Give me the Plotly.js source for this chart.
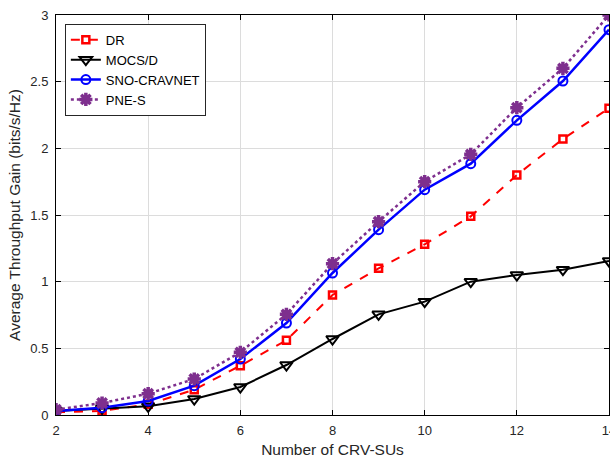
<!DOCTYPE html>
<html><head><meta charset="utf-8">
<script src="https://cdn.plot.ly/plotly-3.0.1.min.js"></script>
<style>html,body{margin:0;padding:0;background:#fff}#c{width:610px;height:459px}</style>
</head><body><div id="c"></div>
<script>
var xVals = [2,3,4,5,6,7,8,9,10,11,12,13,14];
var drVals = [0.02,0.03,0.08,0.19,0.37,0.56,0.90,1.10,1.28,1.49,1.80,2.07,2.30];
var mocsVals = [0.03,0.05,0.065,0.12,0.21,0.375,0.57,0.755,0.85,1.00,1.05,1.09,1.155];
var snoVals = [0.03,0.055,0.105,0.22,0.42,0.69,1.065,1.39,1.69,1.885,2.21,2.505,2.89];
var pneVals = [0.04,0.09,0.16,0.27,0.47,0.755,1.135,1.45,1.75,1.955,2.305,2.60,3.00];
var names = ['DR','MOCS/D','SNO-CRAVNET','PNE-S'];
var xTicks = [2,4,6,8,10,12,14];
var yTicks = [0,0.5,1,1.5,2,2.5,3];

var F = 'Liberation Sans, Arial, sans-serif';
var traces = [
 {x:xVals,y:drVals,name:names[0],mode:'lines+markers',
  line:{color:'#ff0000',width:2,dash:'dash'},
  marker:{symbol:'square-open',size:7,color:'#ff0000',line:{width:2.5,color:'#ff0000'}}},
 {x:xVals,y:mocsVals,name:names[1],mode:'lines+markers',
  line:{color:'#000000',width:2},
  marker:{symbol:'triangle-down-open',size:11,color:'#000000',line:{width:2,color:'#000000'}}},
 {x:xVals,y:snoVals,name:names[2],mode:'lines+markers',
  line:{color:'#0000ff',width:2.5},
  marker:{symbol:'circle-open',size:9,color:'#0000ff',line:{width:2,color:'#0000ff'}}},
 {x:xVals,y:pneVals,name:names[3],mode:'lines+markers',
  line:{color:'#7e2f8e',width:2.5,dash:'dot'},
  marker:{symbol:'asterisk-open',size:11,color:'#7e2f8e',line:{width:3.5,color:'#7e2f8e'}}}
];
var ax = {showline:true,linecolor:'#000',linewidth:1,mirror:'ticks',ticks:'inside',ticklen:5,tickcolor:'#000',
  showgrid:true,gridcolor:'#dcdcdc',gridwidth:1,zeroline:false,ticklabeloverflow:'allow',
  tickfont:{family:F,size:13,color:'#262626'}};
var layout = {
 width:610,height:459,paper_bgcolor:'#fff',plot_bgcolor:'#fff',
 margin:{l:56,r:1,t:15,b:44},
 xaxis:Object.assign({},ax,{range:[2,14],tickvals:xTicks,ticktext:xTicks.map(String),ticklabelstandoff:3,
   title:{text:'Number of CRV-SUs',font:{family:F,size:15.5,color:'#262626'},standoff:7}}),
 yaxis:Object.assign({},ax,{range:[0,3],tickvals:yTicks,ticktext:yTicks.map(String),ticklabelstandoff:4,
   title:{text:'Average Throughput Gain (bits/s/Hz)',font:{family:F,size:15.5,color:'#262626'},standoff:5}}),
 showlegend:true,
 legend:{x:0.016,y:0.978,xanchor:'left',yanchor:'top',bgcolor:'#fff',bordercolor:'#262626',borderwidth:1,
   font:{family:F,size:13,color:'#000'},tracegroupgap:0}
};
Plotly.newPlot('c',traces,layout,{displayModeBar:false,staticPlot:true});
</script></body></html>
